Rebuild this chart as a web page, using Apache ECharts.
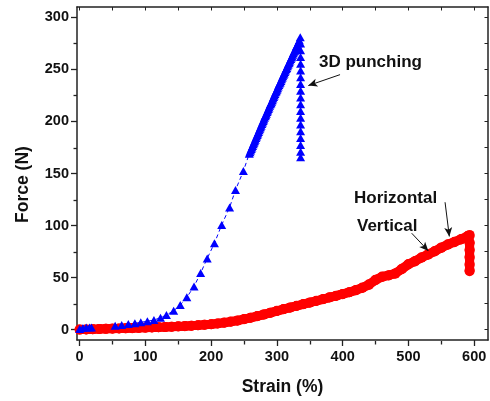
<!DOCTYPE html>
<html>
<head>
<meta charset="utf-8">
<script src="https://cdn.jsdelivr.net/npm/echarts@6/dist/echarts.min.js"></script>
<style>
  html, body { margin: 0; padding: 0; background: #fff; }
  #chart { width: 490px; height: 401px; }
</style>
</head>
<body>
<div id="chart"></div>
<script>
// 3D punching (blue triangles)
const punchStrain = [
  0, 5, 10, 15, 18,
  54, 64, 74, 84, 93, 103, 113, 123, 132, 143, 153, 163, 174, 184, 194, 205, 216, 228, 237, 249,
  258, 259, 260, 261, 262, 263, 264, 265, 266, 267,
  268, 269, 270, 271, 272, 273, 274, 275, 276, 277,
  278, 279, 280, 281, 282, 283, 284, 285, 286, 287,
  288, 289, 290, 291, 292, 293, 294, 295, 296, 297,
  298, 299, 300, 301, 302, 303, 304, 305, 306, 307,
  308, 309, 310, 311, 312, 313, 314, 315, 316, 317,
  318, 319, 320, 321, 322, 323, 324, 325, 326, 327,
  328, 329, 330, 331, 332, 333, 334,
  335.5,
  336, 336, 336, 336, 336, 336, 336, 336, 336, 336, 336, 336, 336, 336, 336, 336, 336, 336
];
const punchForce = [
  0.5, 1.5, 2, 2, 2,
  3.7, 4.4, 5.4, 6, 7, 8, 9.2, 11.4, 14, 18.1, 23.6, 31, 41.5, 54.3, 68.4, 83, 100.6, 117.3, 134.1, 152.3,
  169, 170.5, 172, 173.5, 175, 176.5, 178, 179.5, 181, 182.5,
  184, 185.5, 187, 188.5, 190, 191.5, 193, 194.5, 196, 197.5,
  199, 200.5, 202, 203.5, 205, 206, 207.5, 209, 210.5, 212,
  213.5, 215, 216.5, 217.5, 219, 220.5, 222, 223.5, 225, 226.5,
  228, 229, 230.5, 232, 233.5, 235, 236.5, 237.5, 239, 240.5,
  242, 243.5, 245, 246, 247.5, 249, 250.5, 251.5, 253, 254.5,
  256, 257, 258.5, 260, 261.5, 262.5, 264, 265.5, 267, 268,
  269.5, 271, 272.5, 273.5, 275, 276.5, 278,
  281,
  275, 268.5, 262, 255.5, 249, 242.5, 236, 229.5, 223, 216.5, 210, 203.5, 197, 190.5, 184, 177.5, 171, 165.5
];

// Horizontal / Vertical (red circles)
const sheetStrain = [
  0, 10, 20, 30, 40, 50, 60, 70, 80, 90,
  100, 110, 120, 130, 140, 150, 160, 170, 180, 190,
  200, 210, 220, 230, 240, 250, 260, 270, 280, 290,
  300, 310, 320, 330, 340, 350, 360, 370, 380, 390,
  400, 410, 420, 430, 440, 450, 460, 470, 480, 490,
  500, 510, 520, 530, 540, 550, 560, 570, 580, 590,
  593, 593, 593, 593, 593, 593
];
const horizontalForce = [
  0, 0.2, 0.4, 0.6, 0.8, 1.0, 1.1, 1.3, 1.5, 1.7,
  1.9, 2.1, 2.3, 2.5, 2.8, 3.1, 3.4, 3.8, 4.2, 4.7,
  5.2, 5.9, 6.7, 7.7, 8.8, 10.1, 11.5, 13, 14.6, 16.3,
  18, 19.7, 21.3, 22.9, 24.5, 26.1, 27.7, 29.3, 31, 32.6,
  34.3, 36, 38, 40.5, 43.5, 48, 51, 52.3, 54, 58.5,
  63, 66, 69.5, 72.5, 75.5, 79, 82, 84.5, 87, 90,
  91, 84, 77, 70, 63, 56
];
const verticalForce = [
  0, 0.2, 0.3, 0.5, 0.7, 0.9, 1.0, 1.2, 1.4, 1.6,
  1.8, 2.0, 2.2, 2.4, 2.7, 3.0, 3.3, 3.7, 4.1, 4.6,
  5.1, 5.8, 6.6, 7.5, 8.6, 9.9, 11.3, 12.8, 14.4, 16.1,
  17.8, 19.5, 21.1, 22.7, 24.3, 25.9, 27.5, 29.1, 30.8, 32.4,
  34, 35.8, 37.7, 40, 43, 47.5, 50.5, 52, 53.8, 58,
  62.5, 65.5, 69, 72, 75, 78.5, 81.5, 84, 86.5, 89.5,
  90, 83, 76, 69, 62, 57
];

const xMajor = [0, 100, 200, 300, 400, 500, 600];
const xMinor = [50, 150, 250, 350, 450, 550];
const yMajor = [0, 50, 100, 150, 200, 250, 300];
const yMinor = [25, 75, 125, 175, 225, 275];

const zip = (xs, ys) => xs.map((x, i) => [x, ys[i]]);

const chart = echarts.init(document.getElementById('chart'));

const FONT = '"Liberation Sans", Arial, sans-serif';
const axisCol = '#222';
const hidden = { show: false };
const plotRect = { left: 77, right: 2, top: 7, bottom: 60 };
const frameLine = { onZero: false, lineStyle: { color: axisCol, width: 1.5 } };
const noLine = { show: false, onZero: false };

const arrowLine = (from, to) => ({
  silent: true, symbol: ['none', 'arrow'], symbolSize: [6, 9],
  label: hidden,
  lineStyle: { color: '#111', width: 1, type: 'solid' },
  data: [[{ coord: from }, { coord: to }]]
});

const option = {
  animation: false,
  backgroundColor: '#fff',
  // grid 1 shares the plot rectangle and only carries the short minor ticks
  grid: [Object.assign({}, plotRect), Object.assign({}, plotRect)],
  xAxis: [
    {
      type: 'value', gridIndex: 0, min: -4, max: 621, position: 'bottom',
      name: 'Strain (%)', nameLocation: 'middle', nameGap: 38,
      nameTextStyle: { fontFamily: FONT, fontWeight: 'bold', fontSize: 17.5, color: '#111' },
      axisLine: frameLine,
      axisTick: { customValues: xMajor, length: 6, lineStyle: { color: axisCol, width: 1.3 } },
      axisLabel: { customValues: xMajor, margin: 9, fontFamily: FONT, fontWeight: 'bold', fontSize: 14.5, color: '#111' },
      splitLine: hidden
    },
    {
      type: 'value', gridIndex: 0, min: -4, max: 621, position: 'top',
      axisLine: frameLine,
      axisTick: { inside: true, customValues: xMajor.concat(xMinor), length: 3.5, lineStyle: { color: axisCol, width: 1 } },
      axisLabel: hidden, splitLine: hidden
    },
    {
      type: 'value', gridIndex: 1, min: -4, max: 621, position: 'bottom',
      axisLine: noLine,
      axisTick: { customValues: xMinor, length: 3.5, lineStyle: { color: axisCol, width: 1.3 } },
      axisLabel: hidden, splitLine: hidden
    }
  ],
  yAxis: [
    {
      type: 'value', gridIndex: 0, min: -10, max: 310, position: 'left',
      name: 'Force (N)', nameLocation: 'middle', nameGap: 45, nameRotate: 90,
      nameTextStyle: { fontFamily: FONT, fontWeight: 'bold', fontSize: 17.5, color: '#111', padding: [0, 22, 0, 0] },
      axisLine: frameLine,
      axisTick: { customValues: yMajor, length: 6, lineStyle: { color: axisCol, width: 1.3 } },
      axisLabel: { customValues: yMajor, margin: 8, fontFamily: FONT, fontWeight: 'bold', fontSize: 14.5, color: '#111' },
      splitLine: hidden
    },
    {
      type: 'value', gridIndex: 0, min: -10, max: 310, position: 'right',
      axisLine: frameLine,
      axisTick: { inside: true, customValues: yMajor.concat(yMinor), length: 3.5, lineStyle: { color: axisCol, width: 1 } },
      axisLabel: hidden, splitLine: hidden
    },
    {
      type: 'value', gridIndex: 1, min: -10, max: 310, position: 'left',
      axisLine: noLine,
      axisTick: { customValues: yMinor, length: 3.5, lineStyle: { color: axisCol, width: 1.3 } },
      axisLabel: hidden, splitLine: hidden
    }
  ],
  graphic: [
    { type: 'text', left: 319, top: 54, style: { text: '3D punching', font: 'bold 17px ' + FONT, fill: '#111' } },
    { type: 'text', left: 354, top: 190, style: { text: 'Horizontal', font: 'bold 17px ' + FONT, fill: '#111' } },
    { type: 'text', left: 357, top: 218, style: { text: 'Vertical', font: 'bold 17px ' + FONT, fill: '#111' } }
  ],
  series: [
    {
      name: 'Horizontal', type: 'line', xAxisIndex: 0, yAxisIndex: 0,
      data: zip(sheetStrain, horizontalForce),
      symbol: 'circle', symbolSize: 10,
      itemStyle: { color: '#ff0000' },
      lineStyle: { color: '#ff0000', width: 9 },
      markLine: arrowLine([555.7, 122.4], [562.2, 89.5])
    },
    {
      name: 'Vertical', type: 'line', xAxisIndex: 0, yAxisIndex: 0,
      data: zip(sheetStrain, verticalForce),
      symbol: 'circle', symbolSize: 10,
      itemStyle: { color: '#ff0000' },
      lineStyle: { color: '#ff0000', width: 9 },
      markLine: arrowLine([505, 92.6], [530.3, 75.6])
    },
    {
      name: '3D punching', type: 'line', xAxisIndex: 0, yAxisIndex: 0,
      data: zip(punchStrain, punchForce),
      symbol: 'triangle', symbolSize: [9, 8],
      itemStyle: { color: '#0000ff' },
      lineStyle: { color: '#0000ff', width: 1, type: [4, 3] },
      markLine: arrowLine([396, 245], [347.8, 234.5])
    }
  ]
};

chart.setOption(option);
</script>
</body>
</html>
